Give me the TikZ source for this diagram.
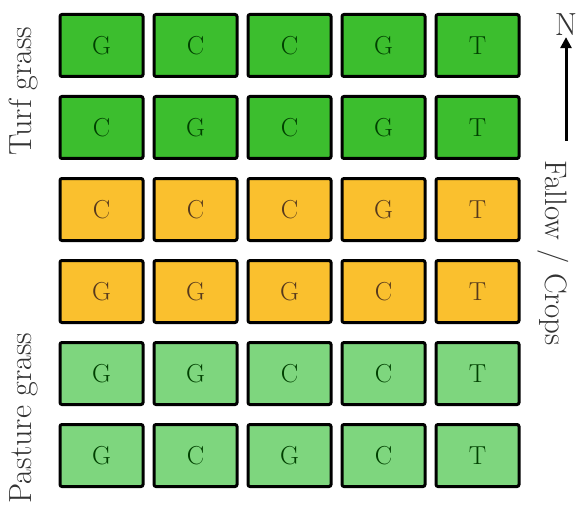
\documentclass[tikz,border=0pt]{standalone}
\usepackage{fontspec}
\usepackage{tikz}
\usetikzlibrary{arrows.meta,positioning}

\definecolor{turfgreen}{RGB}{60,190,46}
\definecolor{fallowyellow}{RGB}{250,192,46}
\definecolor{pasturegreen}{RGB}{126,214,126}

\begin{document}
\begin{tikzpicture}[
  x=1pt,y=-1pt,
  node distance=17pt and 8pt,
  plot/.style={draw,line width=3pt,rounded corners=2pt,minimum width=83pt,
    minimum height=62pt,inner sep=0pt,font=\fontsize{26}{26}\selectfont},
  turf/.style={plot,fill=turfgreen,text=green!25!black},
  fallow/.style={plot,fill=fallowyellow,text=brown!45!black},
  pasture/.style={plot,fill=pasturegreen,text=green!25!black},
  side/.style={font=\fontsize{32}{34}\selectfont,text=black!80},
  arrow/.style={-{Triangle[length=11pt,width=11pt]},line width=3pt}
]
\useasboundingbox (0,0) rectangle (580,505);
% first column
\node[turf] (a1) at (101.5,45.5) {G};
\node[turf,below=of a1] (b1) {C};
\node[fallow,below=of b1] (c1) {C};
\node[fallow,below=of c1] (d1) {G};
\node[pasture,below=of d1] (e1) {G};
\node[pasture,below=of e1] (f1) {G};
% rest of each row
\foreach \r/\sty/\rest in {a/turf/{C,C,G,T},b/turf/{G,C,G,T},
    c/fallow/{C,C,G,T},d/fallow/{G,G,C,T},
    e/pasture/{G,C,C,T},f/pasture/{C,G,C,T}}
  \foreach \t [count=\i from 2,remember=\i as \j (initially 1)] in \rest
    \node[\sty,right=of \r\j] (\r\i) {\t};
% labels
\node[side,rotate=90] (turflabel) at (24,91) {Turf grass};
\node[side,rotate=90] (pasturelabel) at (24,418) {Pasture grass};
\node[side,rotate=-90,font=\fontsize{31}{34}\selectfont] (fallowlabel) at (553,253) {Fallow / Crops};
\node[side,font=\fontsize{32}{32}\selectfont,inner sep=1pt] (north) at (566,25) {N};
\coordinate (tail) at (566,141);
\draw[arrow] (tail)--(north.south);
\end{tikzpicture}
\end{document}
